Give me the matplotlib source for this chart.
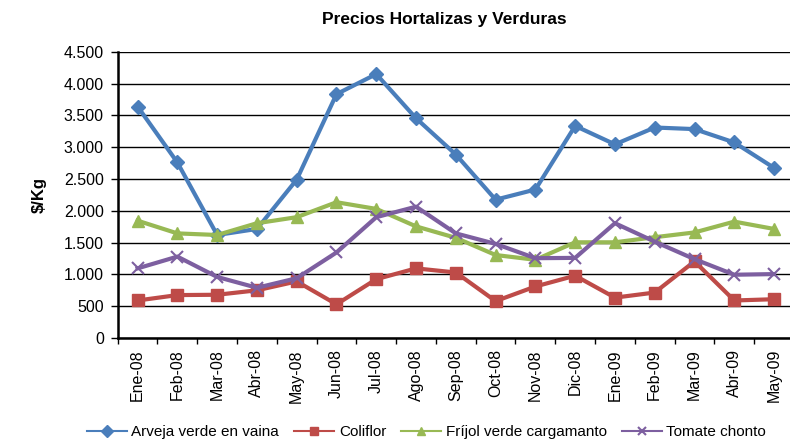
import numpy as np
import matplotlib
matplotlib.use('Agg')
import matplotlib.pyplot as plt
from matplotlib.ticker import FuncFormatter, FixedLocator

# monthly prices ($/Kg)
meses = ['Ene-08', 'Feb-08', 'Mar-08', 'Abr-08', 'May-08', 'Jun-08', 'Jul-08', 'Ago-08', 'Sep-08',
         'Oct-08', 'Nov-08', 'Dic-08', 'Ene-09', 'Feb-09', 'Mar-09', 'Abr-09', 'May-09']

arveja = [3640, 2760, 1620, 1715, 2490, 3835, 4150, 3455, 2885, 2175, 2335, 3335, 3045, 3310, 3285, 3075, 2675]
coliflor = [590, 675, 680, 750, 890, 530, 925, 1095, 1030, 580, 810, 980, 635, 715, 1205, 590, 610]
frijol = [1845, 1645, 1620, 1805, 1900, 2135, 2030, 1755, 1575, 1305, 1230, 1505, 1505, 1585, 1660, 1830, 1715]
tomate = [1095, 1280, 960, 790, 940, 1345, 1900, 2065, 1645, 1480, 1255, 1260, 1805, 1515, 1240, 995, 1005]

series = [
    ('Arveja verde en vaina', arveja, '#4A7EBB', 'D', 7),
    ('Coliflor', coliflor, '#BE4B48', 's', 8),
    ('Fríjol verde cargamanto', frijol, '#98B954', '^', 8.5),
    ('Tomate chonto', tomate, '#7D5FA0', 'x', 8),
]

plt.rcParams['font.family'] = ['Liberation Sans', 'DejaVu Sans']

fig = plt.figure(figsize=(7.9, 4.43), dpi=100)
ax = fig.add_axes([0.149, 0.237, 0.856, 0.646])

x = np.arange(len(meses))
for name, vals, col, mk, ms in series:
    ax.plot(x, vals, color=col, lw=3, marker=mk, markersize=ms, label=name,
            markeredgecolor=col, markeredgewidth=1.5 if mk == 'x' else 1, zorder=3)

ax.set_xlim(-0.5, len(meses) - 0.5)
ax.set_ylim(0, 4500)
ax.set_yticks(np.arange(0, 4501, 500))
ax.yaxis.set_major_formatter(FuncFormatter(lambda v, p: f'{int(v):,}'.replace(',', '.')))
ax.yaxis.grid(True, color='black', lw=1)
ax.set_axisbelow(True)

ax.xaxis.set_major_locator(FixedLocator(np.arange(-0.5, len(meses), 1)))
ax.xaxis.set_minor_locator(FixedLocator(x))
ax.set_xticklabels([], minor=False)
ax.set_xticklabels(meses, minor=True, rotation=90, fontsize=11.5)
ax.tick_params(axis='x', which='major', length=4, width=1, direction='out')
ax.tick_params(axis='x', which='minor', length=0, pad=8)
ax.tick_params(axis='y', length=5, width=1, labelsize=11.5, pad=5)

for s in ['top', 'right']:
    ax.spines[s].set_visible(False)
for s in ['left', 'bottom']:
    ax.spines[s].set_linewidth(1.8)

ax.set_ylabel('$/Kg', fontsize=12, fontweight='bold', labelpad=12)
fig.text(0.563, 0.957, 'Precios Hortalizas y Verduras', ha='center', va='center',
         fontsize=12.5, fontweight='bold')

leg = fig.legend(loc='center', bbox_to_anchor=(0.54, 0.025), ncol=4, frameon=False,
                 fontsize=11, handlelength=2.6, columnspacing=1.0, handletextpad=0.3)
for h in leg.legend_handles:
    h.set_linewidth(1.5)
    h.set_markersize(6)

fig.savefig('out.png', dpi=100)
